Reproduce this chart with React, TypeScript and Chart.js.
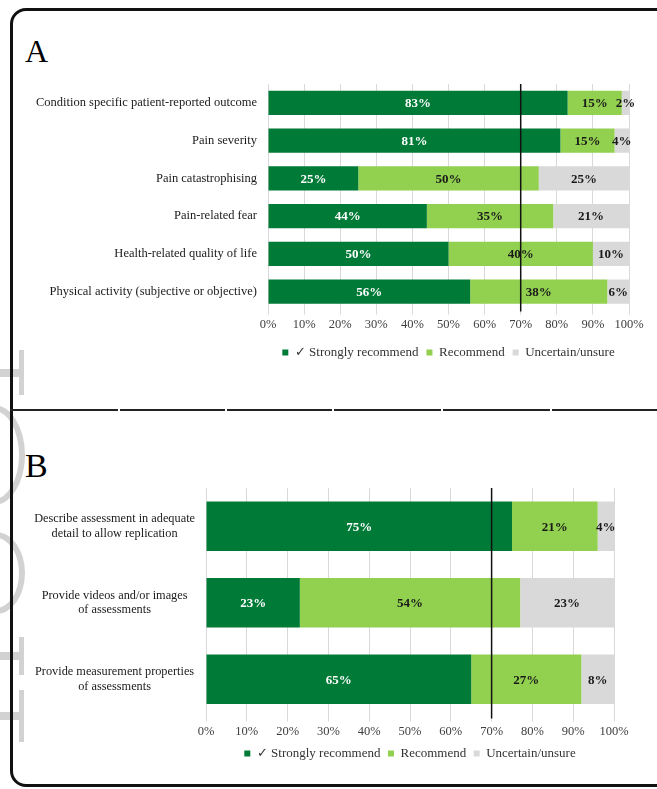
// Two stacked horizontal bar panels (A, B) in a rounded frame, each with a
// 70% agreement threshold line and percentage labels inside the segments.

import { useEffect, useRef } from "react";
import { Chart, registerables } from "chart.js";

Chart.register(...registerables);

const FONT = '"Liberation Serif", "Times New Roman", serif';

const legendLabels = ["✓ Strongly recommend", "Recommend", "Uncertain/unsure"];
const segmentColors = ["#007A37", "#92D050", "#D9D9D9"];
const threshold = 70;

const catsA = [
  "Condition specific patient-reported outcome",
  "Pain severity",
  "Pain catastrophising",
  "Pain-related fear",
  "Health-related quality of life",
  "Physical activity (subjective or objective)",
];
const strongA = [83, 81, 25, 44, 50, 56];
const recommendA = [15, 15, 50, 35, 40, 38];
const unsureA = [2, 4, 25, 21, 10, 6];

const catsB = [
  ["Describe assessment in adequate", "detail to allow replication"],
  ["Provide videos and/or images", "of assessments"],
  ["Provide measurement properties", "of assessments"],
];
const strongB = [75, 23, 65];
const recommendB = [21, 54, 27];
const unsureB = [4, 23, 8];

// vertical line at the threshold value, from the top of the plot to the axis
const thresholdLine = {
  id: "threshold",
  afterDatasetsDraw(chart: any, _args: any, opts: any) {
    const { ctx, chartArea } = chart;
    const x = chart.scales.x.getPixelForValue(opts.value);
    ctx.save();
    ctx.strokeStyle = "#111";
    ctx.lineWidth = 1.5;
    ctx.beginPath();
    ctx.moveTo(x, chartArea.top);
    ctx.lineTo(x, chartArea.bottom + 1);
    ctx.stroke();
    ctx.restore();
  },
};

// "83%" style labels centred in each segment
const segmentLabels = {
  id: "segmentLabels",
  afterDatasetsDraw(chart: any) {
    const { ctx } = chart;
    ctx.save();
    ctx.font = `bold 13px ${FONT}`;
    ctx.textAlign = "center";
    ctx.textBaseline = "middle";
    chart.data.datasets.forEach((ds: any, di: number) => {
      const meta = chart.getDatasetMeta(di);
      meta.data.forEach((bar: any, i: number) => {
        const v = ds.data[i];
        if (!v) return;
        ctx.fillStyle = di === 0 ? "#ffffff" : "#1a1a1a";
        ctx.fillText(`${v}%`, (bar.x + bar.base) / 2, bar.y + 1);
      });
    });
    ctx.restore();
  },
};

interface PanelProps {
  labels: (string | string[])[];
  series: number[][];
  left: number;
  top: number;
  width: number;
  height: number;
  yWidth: number;
  padTop: number;
  padRight: number;
  xHeight: number;
  legendPad: number;
  barPct: number;
  labelSize: number;
  crossAlign: "near" | "center";
}

function StackedPanel(p: PanelProps) {
  const canvasRef = useRef<HTMLCanvasElement>(null);

  useEffect(() => {
    const chart = new Chart(canvasRef.current!, {
      type: "bar",
      data: {
        labels: p.labels as any,
        datasets: p.series.map((data, i) => ({
          label: legendLabels[i],
          data,
          backgroundColor: segmentColors[i],
          borderWidth: 0,
          barPercentage: p.barPct,
          categoryPercentage: 1,
        })),
      },
      options: {
        indexAxis: "y",
        responsive: true,
        maintainAspectRatio: false,
        animation: false,
        layout: { padding: { top: p.padTop, right: p.padRight, left: 0, bottom: 0 } },
        plugins: {
          tooltip: { enabled: false },
          legend: {
            position: "bottom",
            fullSize: false,
            labels: {
              boxWidth: 6,
              boxHeight: 6,
              padding: p.legendPad,
              color: "#333",
              font: { family: FONT, size: 13 },
            },
          },
          threshold: { value: threshold },
        } as any,
        scales: {
          x: {
            stacked: true,
            min: 0,
            max: 100,
            border: { display: false },
            grid: { color: "#D9D9D9", lineWidth: 1, drawTicks: true, tickLength: 4 },
            ticks: {
              stepSize: 10,
              padding: 3,
              color: "#404040",
              font: { family: FONT, size: 12.5 },
              callback: (v: any) => `${v}%`,
            },
            afterFit: (scale: any) => {
              scale.height = p.xHeight;
            },
          },
          y: {
            stacked: true,
            border: { display: false },
            grid: { display: false, drawTicks: false },
            ticks: {
              padding: 11,
              color: "#1a1a1a",
              crossAlign: p.crossAlign,
              font: { family: FONT, size: p.labelSize },
            },
            afterFit: (scale: any) => {
              // fixed label column; labels sit inside their bands, so no overhang padding
              scale.width = p.yWidth;
              scale.paddingTop = 0;
              scale.paddingBottom = 0;
            },
          },
        },
      },
      plugins: [thresholdLine, segmentLabels],
    });
    return () => chart.destroy();
    // eslint-disable-next-line react-hooks/exhaustive-deps
  }, []);

  return (
    <div
      style={{
        position: "absolute",
        left: p.left,
        top: p.top,
        width: p.width,
        height: p.height,
      }}
    >
      <canvas ref={canvasRef} />
    </div>
  );
}

const dividerGaps = [119, 226, 333, 442, 551];

// faint page watermark fragments cut off at the left margin
const WM = "#d2d2d2";
const wmStems: [number, number][] = [
  [350, 395],
  [637, 675],
  [690, 742],
];
const wmArcs: [number, number, number][] = [
  [405, 100, 62],
  [532, 82, 58],
];

export default function App() {
  const segs: [number, number][] = [];
  let start = 10;
  dividerGaps.forEach((g) => {
    segs.push([start, g - 1]);
    start = g + 1;
  });
  segs.push([start, 657]);

  return (
    <div
      style={{
        position: "absolute",
        left: 0,
        top: 0,
        width: 657,
        height: 789,
        overflow: "hidden",
        background: "#fff",
        fontFamily: FONT,
      }}
    >
      {wmStems.map(([a, b], i) => (
        <div key={`s${i}`}>
          <div style={{ position: "absolute", left: 19, top: a, width: 5, height: b - a, background: WM }} />
          <div
            style={{
              position: "absolute",
              left: 0,
              top: (a + b) / 2 - 4,
              width: 20,
              height: 8,
              background: WM,
            }}
          />
        </div>
      ))}
      {wmArcs.map(([t, h, w], i) => (
        <div
          key={`a${i}`}
          style={{
            position: "absolute",
            left: 25 - w,
            top: t,
            width: w,
            height: h,
            boxSizing: "border-box",
            border: `6px solid ${WM}`,
            borderRadius: "50%",
          }}
        />
      ))}
      <div
        style={{
          position: "absolute",
          left: 10,
          top: 8,
          width: 670,
          height: 779,
          boxSizing: "border-box",
          border: "3px solid #111",
          borderRadius: 16,
        }}
      />
      {segs.map(([a, b], i) => (
        <div
          key={i}
          style={{
            position: "absolute",
            left: a,
            top: 409,
            width: b - a,
            height: 2,
            background: "#222",
          }}
        />
      ))}
      <div style={{ position: "absolute", left: 25, top: 33, fontSize: 32, lineHeight: "36px", color: "#000" }}>A</div>
      <div style={{ position: "absolute", left: 25, top: 447, fontSize: 34, lineHeight: "38px", color: "#000" }}>B</div>

      <StackedPanel
        labels={catsA}
        series={[strongA, recommendA, unsureA]}
        left={15}
        top={75}
        width={635}
        height={294}
        yWidth={253}
        padTop={9}
        padRight={21}
        xHeight={27.5}
        legendPad={8}
        barPct={0.64}
        labelSize={12.5}
        crossAlign="near"
      />
      <StackedPanel
        labels={catsB}
        series={[strongB, recommendB, unsureB]}
        left={15}
        top={480}
        width={635}
        height={290}
        yWidth={191}
        padTop={8}
        padRight={36}
        xHeight={22}
        legendPad={7.5}
        barPct={0.65}
        labelSize={12.3}
        crossAlign="center"
      />
    </div>
  );
}
